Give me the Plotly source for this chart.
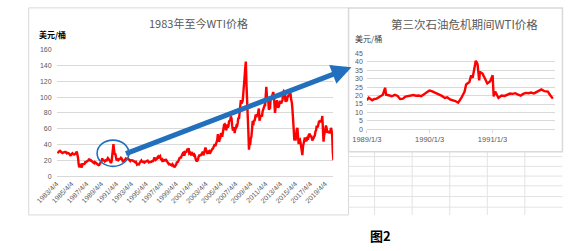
import pandas as pd
import plotly.graph_objects as go

# ---------------- data ----------------
# Left chart: WTI monthly, Apr 1983 .. Apr 2020
wti_start = "1983-04-15"
wti_values = [
    # 1983 Apr-Dec
    30.6, 30.0, 31.0, 31.7, 31.9, 31.1, 30.4, 29.8, 29.2,
    # 1984
    29.7, 30.1, 30.8, 30.6, 30.5, 29.8, 28.7, 29.3, 29.3, 28.8, 28.1, 26.4,
    # 1985
    25.6, 27.3, 28.2, 28.8, 27.6, 27.1, 27.3, 27.8, 28.3, 29.5, 31.0, 27.2,
    # 1986
    22.9, 15.4, 11.0, 12.8, 15.4, 13.4, 10.8, 15.1, 14.9, 14.9, 15.2, 16.1,
    # 1987
    18.7, 17.7, 18.3, 18.7, 19.4, 20.0, 21.8, 20.3, 19.5, 19.8, 18.9, 17.3,
    # 1988
    17.1, 16.7, 16.2, 17.9, 17.4, 16.5, 15.5, 15.5, 14.5, 13.8, 14.0, 16.3,
    # 1989
    18.0, 17.9, 19.4, 22.5, 20.0, 20.0, 19.6, 18.5, 19.6, 20.1, 19.8, 21.1,
    # 1990
    22.9, 22.1, 20.4, 18.4, 18.2, 16.5, 18.6, 27.2, 34.5, 40.5, 32.3, 27.3,
    # 1991
    28.5, 20.5, 19.9, 20.8, 21.2, 20.2, 21.4, 21.7, 21.9, 23.2, 22.5, 19.5,
    # 1992
    18.8, 19.0, 18.9, 20.2, 20.9, 22.4, 21.8, 21.4, 21.9, 21.7, 20.3, 19.4,
    # 1993
    19.1, 20.1, 20.3, 20.3, 19.9, 19.1, 17.9, 18.0, 17.5, 18.1, 16.7, 14.5,
    # 1994
    15.0, 14.8, 14.7, 16.4, 17.9, 19.1, 19.7, 18.4, 17.5, 17.7, 18.1, 17.2,
    # 1995
    18.0, 18.5, 18.6, 19.9, 19.7, 18.4, 17.3, 17.9, 18.0, 17.4, 18.0, 19.0,
    # 1996
    18.9, 19.1, 21.3, 23.5, 21.2, 20.4, 21.3, 22.0, 24.0, 24.9, 23.7, 25.4,
    # 1997
    25.2, 22.2, 21.0, 19.7, 20.8, 19.2, 19.6, 19.9, 19.8, 21.3, 20.2, 18.3,
    # 1998
    16.7, 16.1, 15.0, 15.4, 14.9, 13.7, 14.1, 13.4, 15.0, 14.4, 12.9, 11.0,
    # 1999
    12.5, 12.0, 14.7, 17.3, 17.8, 17.9, 20.1, 21.3, 23.9, 22.6, 25.0, 26.1,
    # 2000
    27.2, 29.4, 29.9, 25.7, 28.8, 31.8, 29.8, 31.2, 34.5, 33.1, 35.5, 28.5,
    # 2001
    29.6, 29.6, 27.2, 27.4, 28.6, 27.6, 26.4, 27.4, 26.2, 22.2, 19.6, 18.5,
    # 2002
    19.7, 20.7, 24.4, 26.3, 27.0, 25.5, 26.9, 28.4, 29.7, 28.9, 26.3, 29.4,
    # 2003
    32.9, 36.0, 33.6, 28.3, 28.1, 30.7, 30.8, 31.6, 28.3, 30.3, 31.1, 32.1,
    # 2004
    34.3, 34.7, 36.7, 36.7, 40.3, 38.0, 40.7, 44.9, 45.9, 53.1, 48.5, 43.3,
    # 2005
    46.8, 48.1, 54.2, 53.0, 49.8, 56.4, 59.0, 65.0, 65.6, 62.4, 58.3, 59.4,
    # 2006
    65.5, 61.6, 62.9, 69.4, 70.8, 70.9, 75.5, 73.0, 63.8, 58.9, 59.1, 62.0,
    # 2007
    54.5, 59.3, 60.4, 63.9, 63.5, 67.5, 74.1, 72.4, 79.9, 85.8, 96.0, 91.7,
    # 2008
    93.0, 95.4, 105.5, 112.6, 125.4, 136.0, 145.0, 116.7, 104.1, 76.6, 57.3, 33.5,
    # 2009
    41.7, 39.1, 47.9, 49.7, 59.0, 69.6, 64.2, 71.1, 69.4, 75.7, 78.0, 74.5,
    # 2010
    78.3, 76.4, 81.2, 85.5, 70.0, 75.3, 76.3, 76.6, 75.2, 81.9, 84.3, 89.2,
    # 2011
    89.2, 88.6, 102.9, 113.0, 100.9, 96.3, 97.3, 84.0, 85.5, 86.3, 99.0, 98.6,
    # 2012
    100.3, 105.0, 106.2, 103.3, 94.7, 80.0, 87.9, 94.1, 96.0, 89.5, 86.5, 87.9,
    # 2013
    94.8, 95.3, 92.9, 92.0, 94.5, 95.8, 106.0, 107.5, 106.3, 100.5, 93.9, 97.6,
    # 2014
    94.6, 100.8, 100.8, 102.1, 102.2, 106.5, 103.6, 96.5, 93.2, 84.4, 75.8, 59.3,
    # 2015
    45.0, 50.6, 45.0, 54.5, 59.3, 61.0, 50.9, 40.5, 45.5, 46.2, 42.4, 36.0,
    # 2016
    31.7, 26.5, 37.5, 40.8, 46.7, 48.8, 44.7, 44.7, 45.2, 49.8, 45.7, 52.0,
    # 2017
    52.5, 53.5, 49.3, 51.1, 48.5, 45.2, 46.6, 48.0, 49.8, 51.6, 56.6, 57.9,
    # 2018
    63.7, 62.2, 62.7, 66.3, 70.0, 67.9, 71.0, 68.1, 70.2, 76.0, 57.0, 43.5,
    # 2019
    51.4, 55.0, 58.2, 63.9, 60.8, 54.7, 57.4, 54.8, 57.0, 54.0, 57.0, 61.0,
    # 2020 Jan-Apr
    57.5, 50.5, 29.2, 20.0,
]
wti_dates = pd.date_range(wti_start, periods=len(wti_values), freq="MS") + pd.Timedelta(days=14)

left_ticks = ["1983/4/4", "1985/4/4", "1987/4/4", "1989/4/4", "1991/4/4", "1993/4/4",
              "1995/4/4", "1997/4/4", "1999/4/4", "2001/4/4", "2003/4/4", "2005/4/4",
              "2007/4/4", "2009/4/4", "2011/4/4", "2013/4/4", "2015/4/4", "2017/4/4",
              "2019/4/4"]
left_x_range = ["1983-04-04", "2020-04-30"]

# Right chart: third oil crisis period
crisis_dates = [
    "1989-01-03", "1989-01-14", "1989-02-03", "1989-02-16", "1989-03-01", "1989-03-18",
    "1989-04-06", "1989-04-19", "1989-04-25", "1989-05-10", "1989-05-28", "1989-06-15",
    "1989-07-01", "1989-07-15", "1989-08-01", "1989-08-15", "1989-09-01", "1989-09-15",
    "1989-10-01", "1989-10-15", "1989-11-01", "1989-11-15", "1989-12-01", "1989-12-15",
    "1990-01-01", "1990-01-15", "1990-02-01", "1990-02-15", "1990-03-01", "1990-03-15",
    "1990-04-01", "1990-04-15", "1990-05-01", "1990-05-15", "1990-06-01", "1990-06-18",
    "1990-07-06", "1990-07-25", "1990-08-03", "1990-08-22", "1990-09-01", "1990-09-10",
    "1990-09-19", "1990-09-28", "1990-10-08", "1990-10-18", "1990-10-22", "1990-11-06",
    "1990-11-21", "1990-12-04", "1990-12-21", "1991-01-04", "1991-01-10", "1991-01-19",
    "1991-02-07", "1991-02-25", "1991-03-15", "1991-04-01", "1991-04-15", "1991-05-01",
    "1991-05-15", "1991-06-01", "1991-06-16", "1991-07-01", "1991-07-15", "1991-08-01",
    "1991-08-15", "1991-09-01", "1991-09-15", "1991-10-01", "1991-10-15", "1991-11-01",
    "1991-11-21", "1991-12-05", "1991-12-20",
]
crisis_values = [
    17.2, 18.8, 17.2, 18.0, 18.2, 19.5,
    20.5, 24.6, 20.5, 20.2, 19.6, 20.4,
    19.8, 18.0, 18.2, 19.4, 19.6, 19.8,
    20.3, 19.9, 20.0, 19.6, 20.8, 22.0,
    23.0, 22.6, 21.8, 21.0, 20.6, 19.8,
    18.6, 19.0, 17.8, 17.5, 16.8, 15.8,
    18.6, 22.4, 26.6, 28.0, 32.0, 30.5,
    35.8, 40.6, 38.7, 29.0, 34.0, 33.0,
    30.0, 27.2, 28.5, 32.0, 19.5, 22.4,
    18.6, 20.0, 19.8, 20.6, 21.2, 21.0,
    21.4, 20.6, 20.0, 21.0, 21.6, 21.4,
    21.8, 21.3, 22.0, 23.2, 23.6, 22.6,
    22.4, 20.2, 18.2,
]
right_ticks = ["1989/1/3", "1990/1/3", "1991/1/3"]
right_x_range = ["1989-01-03", "1991-12-31"]

left_title = "1983年至今WTI价格"
right_title = "第三次石油危机期间WTI价格"
unit = "美元/桶"
caption = "图2"

# ---------------- figure ----------------
W, H = 574, 251
def px(x):
    return x / W
def py(y):
    return 1 - y / H

GRID = "#D9D9D9"
TXT = "#595959"
RED = "#FF0000"
BLUE = "#2270BD"
NUMFONT = "Liberation Sans, Arial, sans-serif"
CJK = "Noto Sans CJK SC, sans-serif"

def to_date(s):
    y, m, d = s.split("/")
    return f"{int(y):04d}-{int(m):02d}-{int(d):02d}"

fig = go.Figure()
fig.add_trace(go.Scatter(x=wti_dates, y=wti_values, mode="lines",
                         line=dict(color=RED, width=2.4), xaxis="x", yaxis="y",
                         showlegend=False, hoverinfo="skip"))
fig.add_trace(go.Scatter(x=pd.to_datetime(crisis_dates), y=crisis_values, mode="lines",
                         line=dict(color=RED, width=2.4), xaxis="x2", yaxis="y2",
                         showlegend=False, hoverinfo="skip"))

shapes = []
# chart frames
shapes.append(dict(type="rect", xref="paper", yref="paper",
                   x0=px(8), x1=px(340), y0=py(217), y1=py(4),
                   line=dict(color=GRID, width=1), layer="below"))
# spreadsheet grid below right chart
for yy in [157, 167, 177, 187, 198, 209]:
    shapes.append(dict(type="line", xref="paper", yref="paper",
                       x0=px(340), x1=px(562), y0=py(yy), y1=py(yy),
                       line=dict(color="#E3E3E3", width=1), layer="below"))
for xx in [367, 406, 445, 484, 523]:
    shapes.append(dict(type="line", xref="paper", yref="paper",
                       x0=px(xx), x1=px(xx), y0=py(217), y1=py(152),
                       line=dict(color="#E3E3E3", width=1), layer="below"))
shapes.append(dict(type="rect", xref="paper", yref="paper",
                   x0=px(340), x1=px(562), y0=py(152), y1=py(4),
                   line=dict(color=GRID, width=1.5), fillcolor="white", layer="below"))
# blue ellipse highlighting 1990 spike
shapes.append(dict(type="circle", xref="paper", yref="paper",
                   x0=px(79), x1=px(112), y0=py(167), y1=py(140),
                   line=dict(color=BLUE, width=1.6)))

annotations = [
    dict(text=left_title, x=px(184), y=py(20), xref="paper", yref="paper",
         showarrow=False, font=dict(family=CJK, size=11, color=TXT),
         xanchor="center", yanchor="middle"),
    dict(text=f"<b>{unit}</b>", x=px(17), y=py(31), xref="paper", yref="paper",
         showarrow=False, font=dict(family=CJK, size=8, color="#000000"),
         xanchor="left", yanchor="middle"),
    dict(text=right_title, x=px(460), y=py(21), xref="paper", yref="paper",
         showarrow=False, font=dict(family=CJK, size=11.5, color=TXT),
         xanchor="center", yanchor="middle"),
    dict(text=unit, x=px(345), y=py(36), xref="paper", yref="paper",
         showarrow=False, font=dict(family=CJK, size=8, color="#404040"),
         xanchor="left", yanchor="middle"),
    dict(text=f"<b>{caption}</b>", x=px(373), y=py(238), xref="paper", yref="paper",
         showarrow=False, font=dict(family=CJK, size=13, color="#000000"),
         xanchor="center", yanchor="middle"),
    # big blue arrow
    dict(text="", x=px(343), y=py(65), xref="paper", yref="paper",
         ax=116 - 343, ay=152 - 65, axref="pixel", ayref="pixel",
         showarrow=True, arrowhead=2, arrowsize=0.8, arrowwidth=5,
         arrowcolor=BLUE, standoff=0, startstandoff=0),
]

fig.update_layout(
    width=W, height=H,
    margin=dict(l=0, r=0, t=0, b=0),
    paper_bgcolor="white", plot_bgcolor="rgba(0,0,0,0)",
    showlegend=False,
    shapes=shapes, annotations=annotations,
    xaxis=dict(domain=[px(37), px(324)], anchor="y", type="date",
               range=left_x_range,
               tickvals=[to_date(t) for t in left_ticks], ticktext=left_ticks,
               tickangle=-45, tickfont=dict(family=NUMFONT, size=7, color=TXT),
               showgrid=False, showline=True, linecolor=GRID, linewidth=1,
               ticks="", zeroline=False),
    yaxis=dict(domain=[py(177), py(47)], anchor="x", range=[0, 160],
               tickvals=list(range(0, 161, 20)),
               tickfont=dict(family=NUMFONT, size=7, color=TXT),
               showgrid=True, gridcolor=GRID, gridwidth=1,
               zeroline=False, showline=False, ticks="", ticklabelstandoff=4),
    xaxis2=dict(domain=[px(359), px(554)], anchor="y2", type="date",
                range=right_x_range,
                tickvals=[to_date(t) for t in right_ticks], ticktext=right_ticks,
                tickangle=0, tickfont=dict(family=NUMFONT, size=7.5, color=TXT),
                showgrid=False, showline=True, linecolor=GRID, linewidth=1,
                ticks="outside", ticklen=3, tickcolor=GRID, zeroline=False),
    yaxis2=dict(domain=[py(129), py(50.7)], anchor="x2", range=[0, 45],
                tickvals=list(range(0, 46, 5)),
                tickfont=dict(family=NUMFONT, size=7, color=TXT),
                showgrid=True, gridcolor=GRID, gridwidth=1,
                zeroline=False, showline=False, ticks="", ticklabelstandoff=3),
)

fig.write_html("out.html")
